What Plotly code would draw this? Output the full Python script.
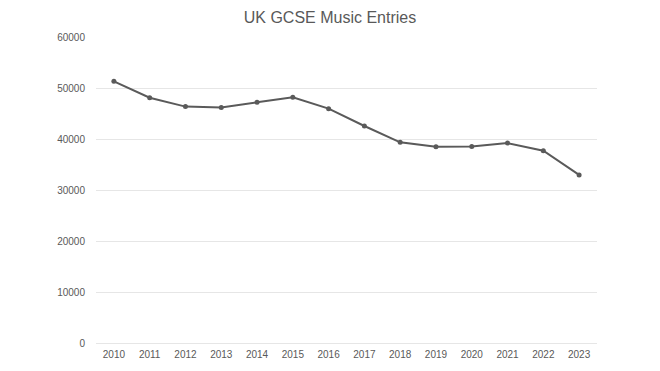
import plotly.graph_objects as go

years = ["2010", "2011", "2012", "2013", "2014", "2015", "2016",
         "2017", "2018", "2019", "2020", "2021", "2022", "2023"]
entries = [51300, 48100, 46350, 46200, 47200, 48200, 45950,
           42550, 39350, 38500, 38550, 39200, 37700, 32950]
y_ticks = [0, 10000, 20000, 30000, 40000, 50000, 60000]

fig = go.Figure()
fig.add_trace(go.Scatter(
    x=years, y=entries, mode="lines+markers",
    line=dict(color="#5a5a5a", width=2),
    marker=dict(color="#5a5a5a", size=5),
    showlegend=False,
))

fig.update_layout(
    width=660, height=371,
    margin=dict(l=96, r=63, t=37, b=28),
    paper_bgcolor="white", plot_bgcolor="white",
    title=dict(text="UK GCSE Music Entries", x=0.5, xanchor="center",
               y=1 - 17 / 371, yanchor="middle",
               font=dict(family="Liberation Sans, Arial", size=16, color="#595959")),
    font=dict(family="Liberation Sans, Arial", size=10, color="#595959"),
)
fig.update_xaxes(type="category", range=[-0.5, len(years) - 0.5],
                 showgrid=False, showline=False, ticks="",
                 automargin=False,
                 tickfont=dict(size=10, color="#595959"), ticklabelstandoff=4)
fig.update_yaxes(range=[0, 60000], tickvals=y_ticks, ticktext=[str(v) for v in y_ticks],
                 automargin=False,
                 showgrid=True, gridcolor="#e6e6e6", gridwidth=1,
                 zeroline=True, zerolinecolor="#e6e6e6", zerolinewidth=1,
                 showline=False, ticks="", ticklabelstandoff=10,
                 tickfont=dict(size=10, color="#595959"))

fig.write_html("out.html",
               config={"displayModeBar": False},
               post_script="document.body.style.margin='0';document.body.style.overflow='hidden';")
